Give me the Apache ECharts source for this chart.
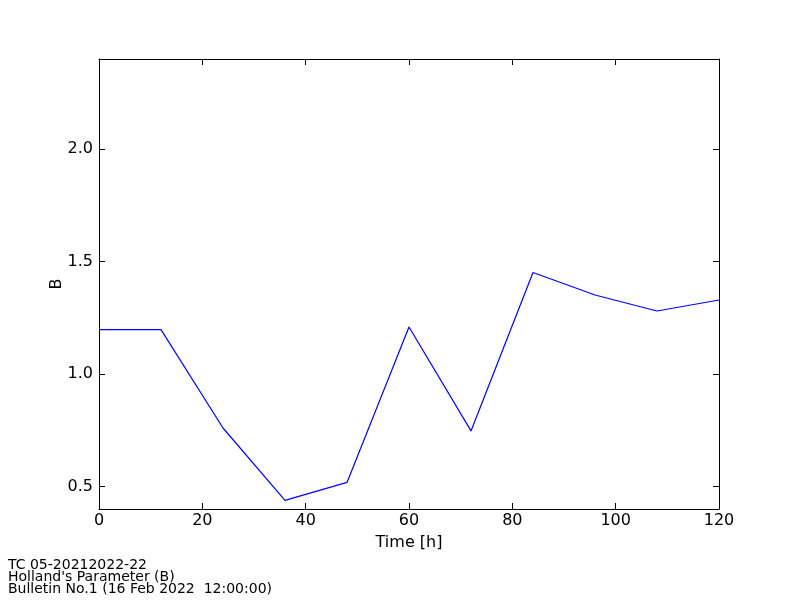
<!DOCTYPE html>
<html>
<head>
<meta charset="utf-8">
<script src="https://cdn.jsdelivr.net/npm/echarts@6/dist/echarts.min.js"></script>
<style>html,body{margin:0;padding:0;background:#fff;}#c{width:800px;height:600px;}</style>
</head>
<body>
<div id="c"></div>
<script>
var hours = [0, 12, 24, 36, 48, 60, 72, 84, 96, 108, 120];
var bValues = [1.197, 1.197, 0.76, 0.438, 0.518, 1.209, 0.747, 1.451, 1.351, 1.28, 1.329];
var yTicks = [0.5, 1.0, 1.5, 2.0];
var footerLines = ["TC 05-20212022-22", "Holland's Parameter (B)", "Bulletin No.1 (16 Feb 2022  12:00:00)"];

var FONT = 'DejaVu Sans';
var chart = echarts.init(document.getElementById('c'), null, {renderer: 'canvas'});
var data = hours.map(function (h, i) { return [h, bValues[i]]; });
var axisLineStyle = {color: '#000', width: 1};

var option = {
  backgroundColor: '#fff',
  animation: false,
  grid: {left: 99, right: 81, top: 59, bottom: 91, containLabel: false},
  xAxis: [{
    type: 'value', min: 0, max: 120, interval: 20, position: 'bottom',
    name: 'Time [h]', nameLocation: 'middle', nameGap: 26, nameMoveOverlap: false,
    nameTextStyle: {fontFamily: FONT, fontSize: 16, color: '#000', verticalAlign: 'top'},
    axisLine: {show: true, onZero: false, lineStyle: axisLineStyle},
    axisTick: {show: true, inside: true, length: 6, lineStyle: {color: '#000'}},
    axisLabel: {show: true, margin: 4, fontFamily: FONT, fontSize: 16, color: '#000'},
    splitLine: {show: false}
  }, {
    type: 'value', min: 0, max: 120, interval: 20, position: 'top',
    axisLine: {show: true, onZero: false, lineStyle: axisLineStyle},
    axisTick: {show: true, inside: true, length: 6, lineStyle: {color: '#000'}},
    axisLabel: {show: false},
    splitLine: {show: false}
  }],
  yAxis: [{
    type: 'value', min: 0.4, max: 2.4, position: 'left',
    name: 'B', nameLocation: 'middle', nameGap: 34, nameMoveOverlap: false,
    nameTextStyle: {fontFamily: FONT, fontSize: 16, color: '#000'},
    axisLine: {show: true, onZero: false, lineStyle: axisLineStyle},
    axisTick: {show: true, inside: true, length: 6, customValues: yTicks, lineStyle: {color: '#000'}},
    axisLabel: {show: true, margin: 6, customValues: yTicks, fontFamily: FONT, fontSize: 16, color: '#000',
      formatter: function (v) { return v.toFixed(1); }},
    splitLine: {show: false}
  }, {
    type: 'value', min: 0.4, max: 2.4, position: 'right',
    axisLine: {show: true, onZero: false, lineStyle: axisLineStyle},
    axisTick: {show: true, inside: true, length: 6, customValues: yTicks, lineStyle: {color: '#000'}},
    axisLabel: {show: false, customValues: yTicks},
    splitLine: {show: false}
  }],
  series: [{
    type: 'line', xAxisIndex: 0, yAxisIndex: 0, data: data,
    showSymbol: false, symbol: 'none',
    lineStyle: {color: '#0000ff', width: 1.2},
    itemStyle: {color: '#0000ff'}
  }],
  graphic: footerLines.map(function (t, i) {
    return {type: 'text', left: 8, top: 558 + i * 12,
      style: {text: t, fontFamily: FONT, fontSize: 14, fill: '#000'}};
  })
};
chart.setOption(option);
</script>
</body>
</html>
